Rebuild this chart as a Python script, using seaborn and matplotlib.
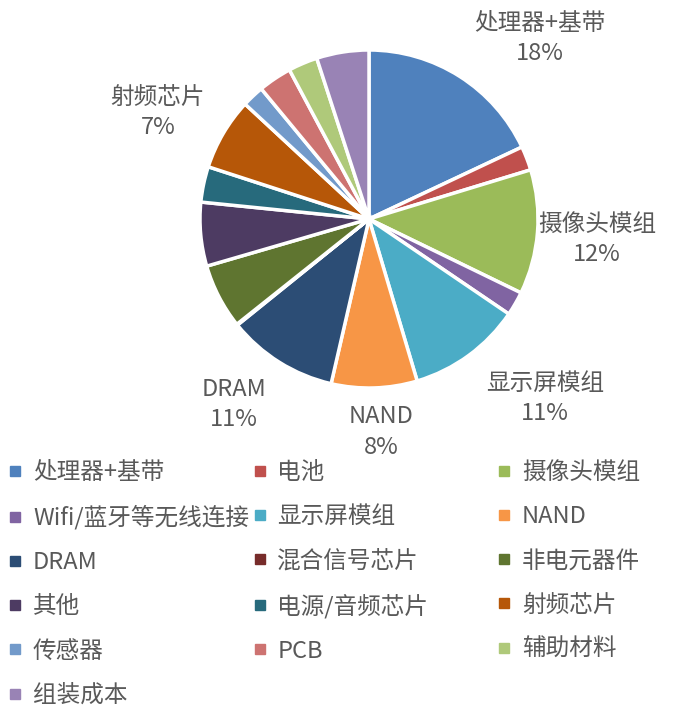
import matplotlib
matplotlib.use("Agg")
import matplotlib.pyplot as plt
from matplotlib.lines import Line2D
import numpy as np
import seaborn as sns

# data (share of total, %), clockwise from 12 o'clock
categories = ['处理器+基带', '电池', '摄像头模组', 'Wifi/蓝牙等无线连接', '显示屏模组', 'NAND',
              'DRAM', '混合信号芯片', '非电元器件', '其他', '电源/音频芯片', '射频芯片',
              '传感器', 'PCB', '辅助材料', '组装成本']
shares = [18.0, 2.3, 11.9, 2.3, 10.9, 8.2, 10.6, 0.1, 6.2, 6.1, 3.4, 6.9, 2.1, 3.2, 2.8, 5.0]
# only these slices carry a data label in the original
labelled = ['处理器+基带', '摄像头模组', '显示屏模组', 'NAND', 'DRAM', '射频芯片']

colors = ['#4F81BD', '#C0504D', '#9BBB59', '#8064A2', '#4BACC6', '#F79646',
          '#2C4D75', '#772C2A', '#5F7530', '#4D3B62', '#276A7C', '#B65708',
          '#729ACA', '#CD7371', '#AFC97A', '#9983B5']

# label anchor points (pie radius = 1)
label_pos = {'处理器+基带': (1.01, 1.07), '摄像头模组': (1.35, -0.12), '显示屏模组': (1.04, -1.06),
             'NAND': (0.07, -1.26), 'DRAM': (-0.80, -1.10), '射频芯片': (-1.25, 0.63)}

sns.set_theme(style="white")
plt.rcParams['font.family'] = ['Noto Sans CJK SC', 'DejaVu Sans']
txt_color = '#595959'

W, H = 679, 707
fig = plt.figure(figsize=(W / 100, H / 100), dpi=100)
cx, cy, r = 369, 219, 169
ax = fig.add_axes([(cx - r) / W, 1 - (cy + r) / H, 2 * r / W, 2 * r / H])

wedges, _ = ax.pie(shares, colors=colors, startangle=90, counterclock=False,
                   wedgeprops=dict(edgecolor='white', linewidth=2.5))
ax.set_xlim(-1, 1)
ax.set_ylim(-1, 1)
ax.set_aspect('equal')

total = sum(shares)
for name, val in zip(categories, shares):
    if name in labelled:
        x, y = label_pos[name]
        ax.text(x, y, f"{name}\n{round(val / total * 100):.0f}%", ha='center', va='center',
                fontsize=17, color=txt_color, linespacing=1.4)

# legend: three columns laid out like the original
handles = [Line2D([], [], marker='s', linestyle='none', markersize=7,
                  markerfacecolor=c, markeredgecolor=c) for c in colors]
col_x = [0.012, 0.372, 0.732]
for k in range(3):
    idx = list(range(k, len(categories), 3))
    fig.legend([handles[i] for i in idx], [categories[i] for i in idx],
               loc='upper left', bbox_to_anchor=(col_x[k], 1 - 461 / H),
               frameon=False, fontsize=17, labelcolor=txt_color,
               handlelength=0.6, handletextpad=0.45, labelspacing=0.9,
               borderpad=0, borderaxespad=0)

fig.savefig('out.png', dpi=100)
